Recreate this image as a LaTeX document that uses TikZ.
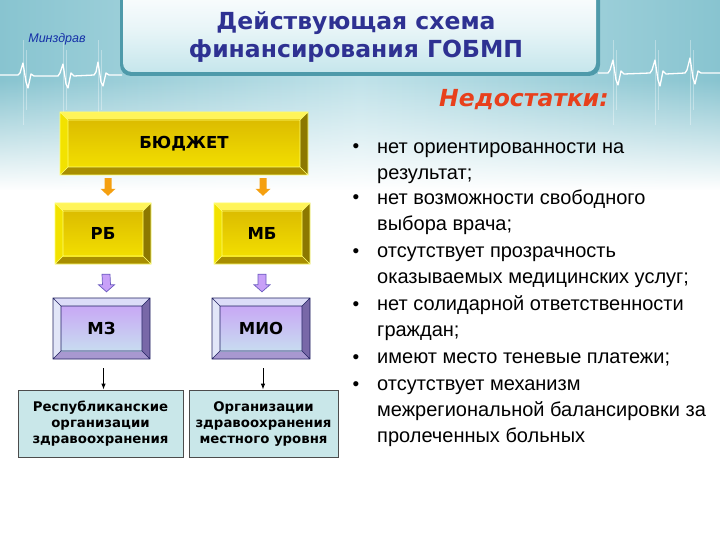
\documentclass[tikz,border=0pt]{standalone}
\usepackage{fontspec}
\setmainfont{Liberation Sans}
\newfontfamily\dvs{DejaVu Sans}
\usetikzlibrary{calc,fadings,arrows.meta}
\definecolor{bgside}{HTML}{88C4D0}
\definecolor{bgmid}{HTML}{C0E2E9}
\definecolor{ttlshadow}{HTML}{4E9AAA}
\definecolor{ttlbot}{HTML}{C6E6EC}
\definecolor{ttlblue}{HTML}{2E3192}
\definecolor{redttl}{HTML}{E8401C}
\definecolor{mzblue}{HTML}{1530A8}
\definecolor{goldT}{HTML}{FFF45A}
\definecolor{goldL}{HTML}{F2E200}
\definecolor{goldB}{HTML}{A88E00}
\definecolor{goldR}{HTML}{8C7800}
\definecolor{goldFL}{HTML}{DCBC00}
\definecolor{goldFR}{HTML}{F2DE00}
\definecolor{goldLine}{HTML}{FFFF70}
\definecolor{purT}{HTML}{DCDCF8}
\definecolor{purL}{HTML}{E2E6F8}
\definecolor{purB}{HTML}{A898D0}
\definecolor{purR}{HTML}{7868A8}
\definecolor{purFL}{HTML}{C8A8F5}
\definecolor{purFR}{HTML}{C8DCF0}
\definecolor{purLine}{HTML}{202060}
\definecolor{orgbox}{HTML}{C9E7E9}
\definecolor{arrOrange}{HTML}{F5A010}
\definecolor{arrPurple}{HTML}{C8A0F8}
\definecolor{arrPurLine}{HTML}{6B5BC0}
\tikzfading[name=fadedown, top color=transparent!100, bottom color=transparent!0]
% bevelled box: name, x1, y1, x2, y2, bevel, colour prefix, text
\newcommand\bevbox[8]{%
  \fill[#7T] (#2,#3) -- (#4,#3) -- (#4-#6,#3+#6) -- (#2+#6,#3+#6) -- cycle;
  \fill[#7L] (#2,#3) -- (#2+#6,#3+#6) -- (#2+#6,#5-#6) -- (#2,#5) -- cycle;
  \fill[#7B] (#2,#5) -- (#2+#6,#5-#6) -- (#4-#6,#5-#6) -- (#4,#5) -- cycle;
  \fill[#7R] (#4,#3) -- (#4-#6,#3+#6) -- (#4-#6,#5-#6) -- (#4,#5) -- cycle;
  \shade[top color=#7FL, bottom color=#7FR] (#2+#6,#3+#6) rectangle (#4-#6,#5-#6);
  \draw[#7Line, line width=0.7pt] (#2,#3) rectangle (#4,#5)
     (#2+#6,#3+#6) rectangle (#4-#6,#5-#6)
     (#2,#3) -- (#2+#6,#3+#6) (#4,#3) -- (#4-#6,#3+#6)
     (#2,#5) -- (#2+#6,#5-#6) (#4,#5) -- (#4-#6,#5-#6);
  \node[boxtext, minimum width={(#4-#2)*1pt}, minimum height={(#5-#3)*1pt}]
     (#1) at ({(#2+#4)/2},{(#3+#5)/2}) {#8};
}
% block arrow from coordinate #1 (top) to #2 (tip); shaft half width #3, head half width #4, head length #5
\newcommand\blockarrow[6]{%
  \draw[#6] ($(#1)+(-#3,0)$) -- ($(#1)+(#3,0)$) -- ($(#2)+(#3,-#5)$) -- ($(#2)+(#4,-#5)$)
     -- (#2) -- ($(#2)+(-#4,-#5)$) -- ($(#2)+(-#3,-#5)$) -- cycle;
}
\begin{document}
\begin{tikzpicture}[x=1pt,y=-1pt,
  boxtext/.style={inner sep=0pt, font=\dvs\bfseries\fontsize{16.5}{20}\selectfont, text=black},
  orgnode/.style={draw=black!70, line width=0.8pt, fill=orgbox, inner sep=0pt, align=center,
     font=\dvs\bfseries\fontsize{13.3}{16}\selectfont},
  bullettext/.style={anchor=north west, inner sep=0pt, align=left, font=\fontsize{20}{26}\selectfont},
  bulletdot/.style={anchor=base, inner sep=0pt, font=\fontsize{19}{26}\selectfont},
  beat/.style={white, line width=1.3pt, line join=round},
  glow/.style={white, opacity=0.35, line width=1pt}]
\useasboundingbox (0,0) rectangle (720,540);
\fill[white] (0,0) rectangle (720,540);
% background band
\shade[left color=bgside, right color=bgside, middle color=bgmid] (0,0) rectangle (720,190);
\fill[white, path fading=fadedown] (0,80) rectangle (720,190);
% heartbeat lines
\foreach \x in {23,63,98,613,655,690} {
  \draw[glow] (\x,40) -- (\x,125);
  \draw[glow] (\x+3,50) -- (\x+3,110);
}
\draw[beat] (0,75) -- (18,75) -- (20,73) -- (23,63) -- (26,82) -- (28,88) -- (31,74) -- (34,76)
  -- (58,76) -- (60,73) -- (63,64) -- (66,84) -- (68,88) -- (71,73) -- (74,76)
  -- (94,75) -- (96,72) -- (98,62) -- (101,82) -- (103,86) -- (106,73) -- (109,75) -- (122,75);
\draw[beat] (598,73) -- (608,73) -- (610,70) -- (613,60) -- (616,80) -- (618,85) -- (621,71) -- (624,74)
  -- (650,73) -- (652,70) -- (655,60) -- (658,80) -- (660,86) -- (663,71) -- (666,74)
  -- (685,73) -- (687,70) -- (690,58) -- (693,78) -- (695,84) -- (698,71) -- (701,73) -- (720,73);
% title box
\fill[ttlshadow, rounded corners=11pt] (120,-15) rectangle (600,76);
\shade[rounded corners=9pt, top color=white, bottom color=ttlbot, middle color=white!60!ttlbot]
   (123,-15) rectangle (596,72);
\node[text=ttlblue, align=center, font=\dvs\bfseries\fontsize{23.5}{28}\selectfont] (title) at (356,37)
  {Действующая схема\\финансирования ГОБМП};
\node[text=mzblue, font=\itshape\fontsize{12.5}{14}\selectfont] (mz) at (57,39) {Минздрав};
\node[text=redttl, font=\dvs\bfseries\itshape\fontsize{23.5}{26}\selectfont] (ned) at (524,100) {Недостатки:};
% boxes
\bevbox{bud}{60}{112}{308}{175}{8}{gold}{БЮДЖЕТ}
\bevbox{rb}{55}{203}{151}{264}{8}{gold}{РБ}
\bevbox{mb}{214}{203}{310}{264}{8}{gold}{МБ}
\bevbox{mzd}{53}{298}{150}{359}{8}{pur}{МЗ}
\bevbox{mio}{212}{298}{310}{359}{8}{pur}{МИО}
\node[orgnode, minimum width=165pt, minimum height=67pt] (rep) at (100.5,423.5)
  {Республиканские\\организации\\здравоохранения};
\node[orgnode, minimum width=149pt, minimum height=67pt] (loc) at (263.5,423.5)
  {Организации\\здравоохранения\\местного уровня};
% arrows
\coordinate (a1s) at ([xshift=5pt,yshift=-3pt]bud.south -| rb.south);
\coordinate (a1e) at ([xshift=5pt,yshift=7pt]rb.north);
\blockarrow{a1s}{a1e}{3.5}{7.5}{7}{fill=arrOrange, draw=none}
\coordinate (a2s) at ([xshift=1pt,yshift=-3pt]bud.south -| mb.south);
\coordinate (a2e) at ([xshift=1pt,yshift=7pt]mb.north);
\blockarrow{a2s}{a2e}{3.5}{7.5}{7}{fill=arrOrange, draw=none}
\coordinate (a3s) at ([xshift=3pt,yshift=-10pt]rb.south);
\coordinate (a3e) at ([xshift=5pt,yshift=6pt]mzd.north);
\blockarrow{a3s}{a3e}{4}{8}{7}{fill=arrPurple, draw=arrPurLine, line width=0.7pt}
\coordinate (a4s) at ([xshift=0pt,yshift=-10pt]mb.south);
\coordinate (a4e) at ([xshift=1pt,yshift=6pt]mio.north);
\blockarrow{a4s}{a4e}{4}{8}{7}{fill=arrPurple, draw=arrPurLine, line width=0.7pt}
\draw[-{Latex[length=6pt,width=4.5pt]}, line width=0.9pt] ([xshift=2pt,yshift=-9pt]mzd.south) -- ([xshift=2pt]mzd.south |- rep.north);
\draw[-{Latex[length=6pt,width=4.5pt]}, line width=0.9pt] ([xshift=2pt,yshift=-9pt]mio.south) -- ([xshift=2pt]mio.south |- loc.north);
% bullets (baselines 153,204,257,310,363,390)
\foreach \y/\name in {153/b1,204/b2,257/b3,310/b4,363/b5,390/b6}
  \node[bulletdot] (\name) at (356,\y) {•};
\node[bullettext] (t1) at (377,153-18.2) {\strut нет ориентированности на\\результат;};
\node[bullettext] (t2) at (377,204-18.2) {\strut нет возможности свободного\\выбора врача;};
\node[bullettext] (t3) at (377,257-18.2) {\strut отсутствует прозрачность\\оказываемых медицинских услуг;};
\node[bullettext] (t4) at (377,310-18.2) {\strut нет солидарной ответственности\\граждан;};
\node[bullettext] (t5) at (377,363-18.2) {\strut имеют место теневые платежи;};
\node[bullettext] (t6) at (377,390-18.2) {\strut отсутствует механизм\\межрегиональной балансировки за\\пролеченных больных};
\end{tikzpicture}
\end{document}
